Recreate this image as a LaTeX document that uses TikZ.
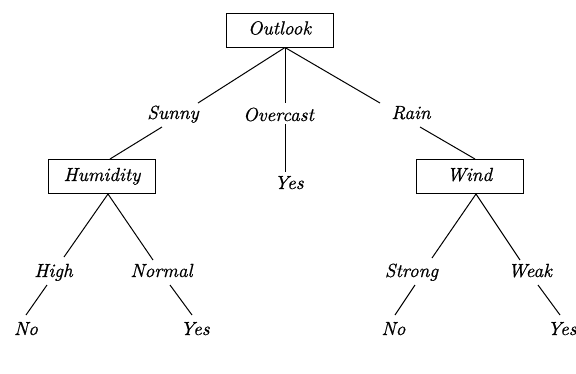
\documentclass[tikz,border=0pt]{standalone}
\usepackage{fontspec}
\newfontfamily\treefont{lmroman10-italic.otf}[FakeBold=0.6]
\begin{document}
\begin{tikzpicture}[x=1pt,y=-1pt,
  attr/.style={draw,line width=1pt,minimum width=107pt,minimum height=34pt,
    inner sep=0pt,text height=13pt,text depth=4pt,font=\treefont\fontsize{19}{21}\selectfont},
  lbl/.style={anchor=base,inner sep=0pt,font=\treefont\fontsize{19}{21}\selectfont},
  branch/.style={line width=1pt}]
\useasboundingbox (0,0) rectangle (576,373);

% attribute tests
\node[attr] (outlook)  at (279.5,30)  {Outlook};
\node[attr] (humidity) at (102,176.5) {Humidity};
\node[attr] (wind)     at (469.5,176.5) {Wind};

% branch values
\node[lbl] (sunny)    at (173,119)   {Sunny};
\node[lbl] (overcast) at (278.5,121) {Overcast};
\node[lbl] (rain)     at (411,119)   {Rain};
\node[lbl] (high)     at (53.5,277)  {High};
\node[lbl] (normal)   at (161.5,277) {Normal};
\node[lbl] (strong)   at (411.5,277) {Strong};
\node[lbl] (weak)     at (530,277)   {Weak};

% leaves
\node[lbl] (yesO) at (289,189)   {Yes};
\node[lbl] (noH)  at (26,335)    {No};
\node[lbl] (yesN) at (195,335)   {Yes};
\node[lbl] (noS)  at (393.5,335) {No};
\node[lbl] (yesW) at (562,335)   {Yes};

% Outlook branches
\draw[branch] ([xshift=5.5pt]outlook.south) -- ([shift={(25,-16)}]sunny.base);
\draw[branch] ([xshift=5.5pt]outlook.south) -- ([shift={(6.5,-18)}]overcast.base);
\draw[branch] ([xshift=5.5pt]outlook.south) -- ([shift={(-31,-16)}]rain.base);
\draw[branch] ([shift={(-11,8)}]sunny.base) -- ([xshift=8pt]humidity.north);
\draw[branch] ([shift={(6.5,3)}]overcast.base) -- ([shift={(-4,-17)}]yesO.base);
\draw[branch] ([shift={(9,8)}]rain.base) -- ([xshift=5.5pt]wind.north);

% Humidity branches
\draw[branch] ([xshift=6pt]humidity.south) -- ([shift={(10.5,-20)}]high.base);
\draw[branch] ([xshift=6pt]humidity.south) -- ([shift={(-8.5,-17)}]normal.base);
\draw[branch] ([shift={(-6.5,8)}]high.base) -- ([shift={(0,-20)}]noH.base);
\draw[branch] ([shift={(8.5,8)}]normal.base) -- ([shift={(-3,-20)}]yesN.base);

% Wind branches
\draw[branch] ([xshift=6.5pt]wind.south) -- ([shift={(20.5,-19)}]strong.base);
\draw[branch] ([xshift=6.5pt]wind.south) -- ([shift={(-10,-17)}]weak.base);
\draw[branch] ([shift={(3.5,8)}]strong.base) -- ([shift={(1.5,-20)}]noS.base);
\draw[branch] ([shift={(8,8)}]weak.base) -- ([shift={(-2,-20)}]yesW.base);
\end{tikzpicture}
\end{document}
